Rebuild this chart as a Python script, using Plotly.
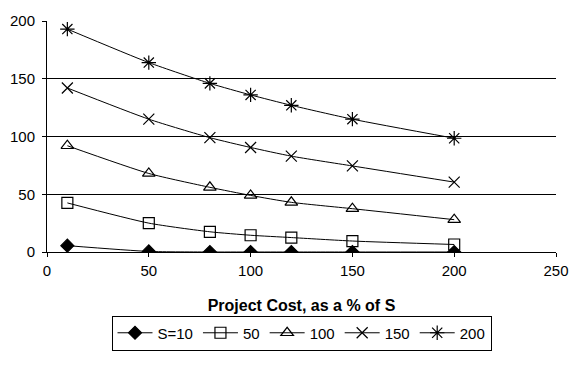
import plotly.graph_objects as go

cost = [10, 50, 80, 100, 120, 150, 200]
s10 = [5.5, 0.5, 0, 0, 0, 0, 0]
s50 = [42.5, 25, 17.5, 14.5, 12.5, 9.5, 6.5]
s100 = [92, 68, 56, 49, 43, 37.5, 28]
s150 = [142, 115, 99, 90.5, 83, 74.5, 60.5]
s200 = [193, 164, 146, 136, 127, 115, 98.5]

names = ["S=10", "50", "100", "150", "200"]
series = [s10, s50, s100, s150, s200]
symbols = ["diamond", "square-open", "triangle-up-open", "x-thin-open", "asterisk-open"]
sizes = [10, 11, 11, 11, 12]

fig = go.Figure()
for n, ys, sym, sz in zip(names, series, symbols, sizes):
    fig.add_trace(go.Scatter(
        x=cost, y=ys, name=n, mode="lines+markers",
        line=dict(color="black", width=1, shape="spline", smoothing=0.6),
        marker=dict(symbol=sym, size=sz, color="black",
                    line=dict(color="black", width=1.2)),
    ))

# horizontal gridlines (interior only), via a secondary overlay axis
fig.add_trace(go.Scatter(x=[None], y=[None], yaxis="y2", showlegend=False, hoverinfo="skip"))

font = "Liberation Sans, Arial, sans-serif"
fig.update_layout(
    width=570, height=367,
    margin=dict(l=47, r=14, t=21, b=115, autoexpand=False),
    paper_bgcolor="white", plot_bgcolor="white",
    font=dict(family=font, size=15, color="black"),
    xaxis=dict(range=[0, 250], tickvals=[0, 50, 100, 150, 200, 250],
               showgrid=False, zeroline=False, showline=True, linecolor="black",
               linewidth=1, ticks="outside", ticklen=4, tickcolor="black",
               ticklabelstandoff=1, automargin=False,
               title=dict(text="<b>Project Cost, as a % of S</b>", standoff=21,
                          font=dict(size=16))),
    yaxis=dict(range=[0, 200], tickvals=[0, 50, 100, 150, 200],
               showgrid=False, zeroline=False, showline=True, linecolor="black",
               linewidth=1, ticks="outside", ticklen=4, tickcolor="black",
               ticklabelstandoff=4, automargin=False),
    yaxis2=dict(overlaying="y", range=[0, 200], tickvals=[50, 100, 150],
                showgrid=True, gridcolor="black", gridwidth=1, showticklabels=False,
                zeroline=False, showline=False, ticks="", automargin=False),
    legend=dict(orientation="h", x=0.5, xanchor="center", y=-0.275, yanchor="top",
                bordercolor="black", borderwidth=1, font=dict(size=15),
                itemwidth=35, tracegroupgap=0),
    showlegend=True,
)
fig.write_html("out.html")
